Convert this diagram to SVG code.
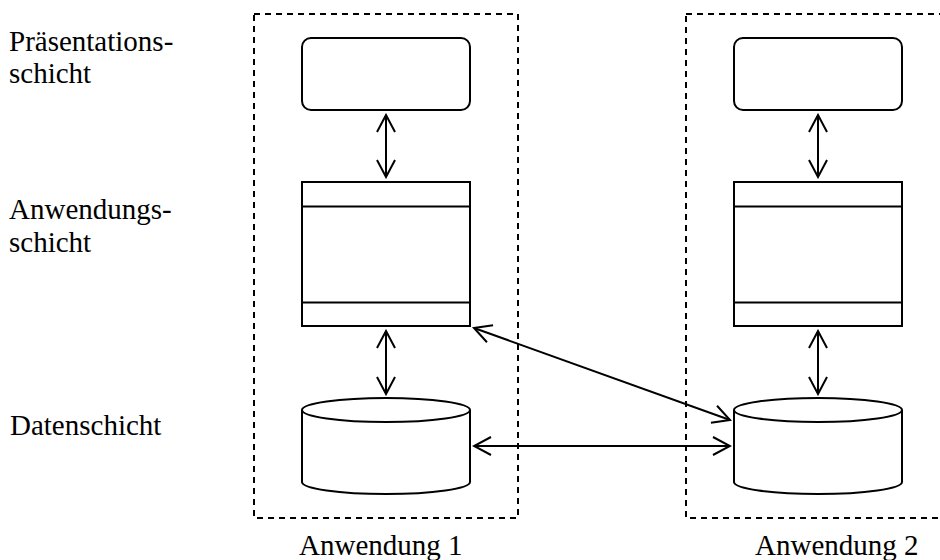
<svg xmlns="http://www.w3.org/2000/svg" width="940" height="560" viewBox="0 0 940 560">
<style>
.t{font-family:"Liberation Serif","Times New Roman",Times,serif;font-size:29px;fill:#000}
.b{fill:#fff;stroke:#000;stroke-width:2}
.d{fill:none;stroke:#000;stroke-width:2;stroke-dasharray:6 5}
.c{fill:none;stroke:#000;stroke-width:2}
</style>
<defs>
<marker id="ah" viewBox="0 0 20 20" refX="18" refY="10" markerWidth="20" markerHeight="20" markerUnits="userSpaceOnUse" orient="auto-start-reverse">
<path d="M1,1 L18,10 L1,19" fill="none" stroke="#000" stroke-width="2"/>
</marker>
</defs>
<rect width="940" height="560" fill="#fff"/>
<g id="labels">
<text class="t" x="9" y="51">Präsentations-</text>
<text class="t" x="9" y="83">schicht</text>
<text class="t" x="9" y="219">Anwendungs-</text>
<text class="t" x="9" y="252">schicht</text>
<text class="t" x="10" y="435">Datenschicht</text>
</g>
<g id="anwendung1">
<rect class="d" x="254" y="14" width="264" height="504"/>
<text class="t" x="299" y="555">Anwendung 1</text>
</g>
<g id="anwendung2">
<rect class="d" x="686" y="14" width="270" height="504"/>
<text class="t" x="755" y="555">Anwendung 2</text>
</g>
<g id="praes1"><rect class="b" x="302" y="38" width="168" height="72" rx="9"/></g>
<g id="praes2"><rect class="b" x="734" y="38" width="168" height="72" rx="9"/></g>
<g id="anw1">
<rect class="b" x="302" y="182" width="168" height="144"/>
<line class="c" x1="302" y1="206.5" x2="470" y2="206.5"/>
<line class="c" x1="302" y1="302.5" x2="470" y2="302.5"/>
</g>
<g id="anw2">
<rect class="b" x="734" y="182" width="168" height="144"/>
<line class="c" x1="734" y1="206.5" x2="902" y2="206.5"/>
<line class="c" x1="734" y1="302.5" x2="902" y2="302.5"/>
</g>
<g id="daten1">
<path class="b" d="M302,410 L302,482 A84,12 0 0 0 470,482 L470,410"/>
<ellipse class="b" cx="386" cy="410" rx="84" ry="12"/>
</g>
<g id="daten2">
<path class="b" d="M734,410 L734,482 A84,12 0 0 0 902,482 L902,410"/>
<ellipse class="b" cx="818" cy="410" rx="84" ry="12"/>
</g>
<g id="connectors">
<line class="c" x1="386" y1="115" x2="386" y2="177" marker-start="url(#ah)" marker-end="url(#ah)"/>
<line class="c" x1="818" y1="115" x2="818" y2="177" marker-start="url(#ah)" marker-end="url(#ah)"/>
<line class="c" x1="386" y1="331" x2="386" y2="394" marker-start="url(#ah)" marker-end="url(#ah)"/>
<line class="c" x1="818" y1="331" x2="818" y2="394" marker-start="url(#ah)" marker-end="url(#ah)"/>
<line class="c" x1="474" y1="328" x2="730" y2="420" marker-start="url(#ah)" marker-end="url(#ah)"/>
<line class="c" x1="474" y1="446" x2="730" y2="446" marker-start="url(#ah)" marker-end="url(#ah)"/>
</g>
</svg>
